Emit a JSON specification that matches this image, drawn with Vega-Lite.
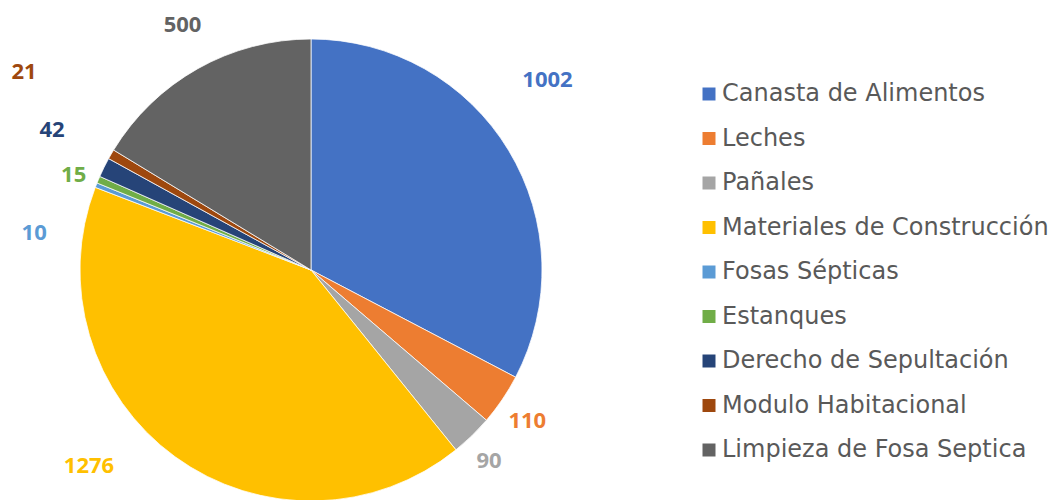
{
  "$schema": "https://vega.github.io/schema/vega-lite/v6.json",
  "width": 622,
  "height": 460,
  "autosize": {"type": "none"},
  "padding": {"left": 0, "top": 40, "right": 432, "bottom": 0},
  "background": "white",
  "config": {"view": {"stroke": null}},
  "data": {
    "values": [
      {"i": 1, "c": "Canasta de Alimentos", "v": 1002},
      {"i": 2, "c": "Leches", "v": 110},
      {"i": 3, "c": "Pañales", "v": 90},
      {"i": 4, "c": "Materiales de Construcción", "v": 1276},
      {"i": 5, "c": "Fosas Sépticas", "v": 10},
      {"i": 6, "c": "Estanques", "v": 15},
      {"i": 7, "c": "Derecho de Sepultación", "v": 42},
      {"i": 8, "c": "Modulo Habitacional", "v": 21},
      {"i": 9, "c": "Limpieza de Fosa Septica", "v": 500}
    ]
  },
  "encoding": {
    "theta": {"field": "v", "type": "quantitative", "stack": true},
    "order": {"field": "i", "type": "quantitative"},
    "color": {
      "field": "c",
      "type": "nominal",
      "scale": {
        "domain": ["Canasta de Alimentos", "Leches", "Pañales", "Materiales de Construcción", "Fosas Sépticas", "Estanques", "Derecho de Sepultación", "Modulo Habitacional", "Limpieza de Fosa Septica"],
        "range": ["#4472C4", "#ED7D31", "#A5A5A5", "#FFC000", "#5B9BD5", "#70AD47", "#264478", "#9E480E", "#636363"]
      },
      "legend": {
        "orient": "none",
        "legendX": 697,
        "legendY": 42,
        "title": null,
        "padding": 0,
        "symbolType": "square",
        "symbolSize": 169,
        "symbolStrokeWidth": 0,
        "symbolOpacity": 1,
        "labelFont": "DejaVu Sans",
        "labelFontSize": 24,
        "labelColor": "#595959",
        "labelLimit": 400,
        "rowPadding": 20.5,
        "labelOffset": 1
      }
    }
  },
  "layer": [
    {"mark": {"type": "arc", "outerRadius": 231, "stroke": "white", "strokeWidth": 0.75}},
    {"mark": {"type": "text", "radius": 260, "font": "Open Sans", "fontWeight": "bold", "fontSize": 22, "align": "center", "baseline": "middle", "dx": 14, "dy": -55},
     "encoding": {"text": {"condition": {"test": "datum.i === 1", "field": "v", "type": "quantitative", "format": "d"}, "value": ""}}},
    {"mark": {"type": "text", "radius": 260, "font": "Open Sans", "fontWeight": "bold", "fontSize": 22, "align": "center", "baseline": "middle", "dx": 1, "dy": 5},
     "encoding": {"text": {"condition": {"test": "datum.i === 2", "field": "v", "type": "quantitative", "format": "d"}, "value": ""}}},
    {"mark": {"type": "text", "radius": 260, "font": "Open Sans", "fontWeight": "bold", "fontSize": 22, "align": "center", "baseline": "middle", "dx": -3, "dy": 4},
     "encoding": {"text": {"condition": {"test": "datum.i === 3", "field": "v", "type": "quantitative", "format": "d"}, "value": ""}}},
    {"mark": {"type": "text", "radius": 260, "font": "Open Sans", "fontWeight": "bold", "fontSize": 22, "align": "center", "baseline": "middle", "dx": -69, "dy": -14},
     "encoding": {"text": {"condition": {"test": "datum.i === 4", "field": "v", "type": "quantitative", "format": "d"}, "value": ""}}},
    {"mark": {"type": "text", "radius": 260, "font": "Open Sans", "fontWeight": "bold", "fontSize": 22, "align": "center", "baseline": "middle", "dx": -35, "dy": 58},
     "encoding": {"text": {"condition": {"test": "datum.i === 5", "field": "v", "type": "quantitative", "format": "d"}, "value": ""}}},
    {"mark": {"type": "text", "radius": 260, "font": "Open Sans", "fontWeight": "bold", "fontSize": 22, "align": "center", "baseline": "middle", "dx": 2, "dy": 7},
     "encoding": {"text": {"condition": {"test": "datum.i === 6", "field": "v", "type": "quantitative", "format": "d"}, "value": ""}}},
    {"mark": {"type": "text", "radius": 260, "font": "Open Sans", "fontWeight": "bold", "fontSize": 22, "align": "center", "baseline": "middle", "dx": -26, "dy": -25},
     "encoding": {"text": {"condition": {"test": "datum.i === 7", "field": "v", "type": "quantitative", "format": "d"}, "value": ""}}},
    {"mark": {"type": "text", "radius": 260, "font": "Open Sans", "fontWeight": "bold", "fontSize": 22, "align": "center", "baseline": "middle", "dx": -62, "dy": -68},
     "encoding": {"text": {"condition": {"test": "datum.i === 8", "field": "v", "type": "quantitative", "format": "d"}, "value": ""}}},
    {"mark": {"type": "text", "radius": 260, "font": "Open Sans", "fontWeight": "bold", "fontSize": 22, "align": "center", "baseline": "middle", "dx": -1, "dy": -18},
     "encoding": {"text": {"condition": {"test": "datum.i === 9", "field": "v", "type": "quantitative", "format": "d"}, "value": ""}}}
  ]
}
